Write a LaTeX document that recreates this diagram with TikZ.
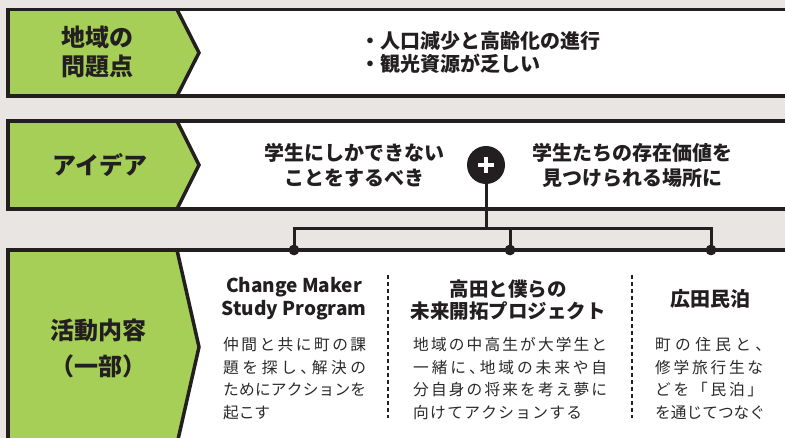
\documentclass[tikz,border=0pt]{standalone}
\usepackage{fontspec}
\setmainfont{Noto Sans CJK JP}
\definecolor{bgc}{HTML}{E8E5E2}
\definecolor{leaf}{HTML}{A5CF56}
\definecolor{ink}{HTML}{231F20}
\definecolor{body}{HTML}{2A2A2A}
\makeatletter
\newcommand\jline[2]{\hbox to #1{\let\jsep\relax\@tfor\jx:=#2\do{\jsep\jx\let\jsep\hfil}}}
\makeatother
\newcommand\hw[1]{\hbox to .5em{#1\hss}}
\begin{document}
\begin{tikzpicture}[x=1pt,y=-1pt,
  frame/.style={draw=ink, line width=3.5pt},
  chev/.style={draw=ink, line width=3.5pt, line join=miter},
  tablabel/.style={font=\bfseries\fontsize{24}{29.5}\selectfont, text=ink, align=center, inner sep=0},
  idea/.style={font=\bfseries\fontsize{20}{25}\selectfont, text=ink, align=center, inner sep=0},
  coltitle/.style={font=\bfseries\fontsize{19.5}{22.5}\selectfont, text=ink, align=center, inner sep=0},
  colbody/.style={font=\fontsize{15.7}{22.5}\selectfont, text=body, inner sep=0, anchor=base west},
  conn/.style={draw=ink, line width=3pt},
  dotnode/.style={circle, fill=ink, minimum size=10.5pt, inner sep=0},
  sepline/.style={draw=ink, line width=1.3pt, dash pattern=on 4pt off 3pt},
  plusnode/.style={circle, fill=ink, minimum size=38pt, inner sep=0,
    path picture={\draw[white, line width=4.5pt]
      ([xshift=-8pt]path picture bounding box.center) -- ([xshift=8pt]path picture bounding box.center)
      ([yshift=-8pt]path picture bounding box.center) -- ([yshift=8pt]path picture bounding box.center);}}
]
\useasboundingbox (0,0) rectangle (785,438);
\clip (0,0) rectangle (785,438);
\fill[bgc] (0,0) rectangle (785,438);

% panel 1
\fill[white] (8,9.5) rectangle (800,96);
\fill[leaf] (8,9.5) -- (177,9.5) -- (199,52.75) -- (177,96) -- (8,96) -- cycle;
\draw[chev] (177,9.5) -- (199,52.75) -- (177,96);
\draw[frame] (8,9.5) rectangle (800,96);

% panel 2
\fill[white] (8,121) rectangle (800,209);
\fill[leaf] (8,121) -- (177,121) -- (199,165) -- (177,209) -- (8,209) -- cycle;
\draw[chev] (177,121) -- (199,165) -- (177,209);
\draw[frame] (8,121) rectangle (800,209);

% panel 3
\fill[white] (8,250) rectangle (800,470);
\fill[leaf] (8,250) -- (177,250) -- (199,347) -- (177,444) -- (8,444) -- (8,470) -- cycle;
\draw[chev] (177,250) -- (199,347) -- (177,444);
\draw[frame] (8,250) rectangle (800,470);

% labels
\node[tablabel] (lab1) at (97,52) {地域の\\問題点};
\node[font=\bfseries\fontsize{20}{23}\selectfont, text=ink, align=left, inner sep=0, anchor=west] (issues) at (360,52) {・人口減少と高齢化の進行\\・観光資源が乏しい};
\node[tablabel] (lab2) at (100,165) {アイデア};
\node[idea] (idea1) at (354,165) {学生にしかできない\\ことをするべき};
\node[idea] (idea2) at (632,165) {学生たちの存在価値を\\見つけられる場所に};
\node[plusnode] (plus) at (486,165) {};
\node[tablabel, font=\bfseries\fontsize{24}{36}\selectfont] (lab3) at (98,348) {活動内容\\（一部）};

% connectors
\coordinate (bus) at (486,229);
\node[dotnode] (d1) at (294,250) {};
\node[dotnode] (d2) at (510,250) {};
\node[dotnode] (d3) at (711,250) {};
\draw[conn] (plus) -- (bus);
\draw[conn] (d1.center) |- (bus) -| (d3.center);
\draw[conn] (d2.center) -- (d2 |- bus);
\node[dotnode] at (d1) {};
\node[dotnode] at (d2) {};
\node[dotnode] at (d3) {};

% separators
\draw[sepline] (388,275) -- (388,418);
\draw[sepline] (632,275) -- (632,418);

% column titles
\node[coltitle, font=\bfseries\fontsize{19}{23.5}\selectfont] (t1) at (294,298.5) {Change Maker\\Study Program};
\node[coltitle] (t2) at (508,300) {高田と僕らの\\未来開拓プロジェクト};
\node[coltitle, font=\bfseries\fontsize{20}{22}\selectfont] (t3) at (710,299) {広田民泊};

% column bodies
\node[colbody] (b1) at (223,351) {\vtop{\baselineskip=22.5pt
  \jline{143pt}{仲間と共に町の課}
  \jline{143pt}{題を探し{\hw{、}}解決の}
  \jline{143pt}{ためにアクションを}
  \hbox{起こす}}};
\node[colbody] (b2) at (413,351) {\vtop{\baselineskip=22.5pt
  \jline{194pt}{地域の中高生が大学生と}
  \jline{194pt}{一緒に{\hw{、}}地域の未来や自}
  \jline{194pt}{分自身の将来を考え夢に}
  \jline{169pt}{向けてアクションする}}};
\node[colbody] (b3) at (655,351) {\vtop{\baselineskip=22.5pt
  \jline{108pt}{町の住民と{\hw{、}}}
  \jline{108pt}{修学旅行生な}
  \jline{108pt}{どを「民泊」}
  \jline{108pt}{を通じてつなぐ}}};
\end{tikzpicture}
\end{document}
